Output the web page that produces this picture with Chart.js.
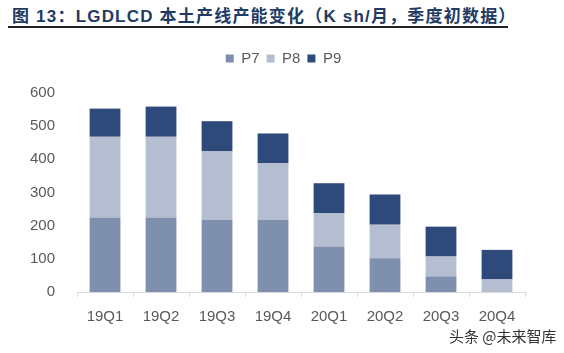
<!DOCTYPE html>
<html>
<head>
<meta charset="utf-8">
<script src="https://cdn.jsdelivr.net/npm/chart.js@4"></script>
<style>
  body { margin: 0; background: #fff; width: 564px; height: 353px; position: relative; overflow: hidden; }
  #title { position: absolute; left: 12px; top: 2px; font: bold 17px "Liberation Sans", "Noto Sans CJK SC", sans-serif; letter-spacing: 1.2px; color: #1f3a63; white-space: nowrap; }
  #rule { position: absolute; left: 8px; top: 26px; width: 500px; height: 2px; background: #222; }
  #wrap { position: absolute; left: 0; top: 40px; width: 564px; height: 300px; }
  #mark { position: absolute; left: 449px; top: 325px; font: 15px "Noto Sans CJK SC", sans-serif; color: #333; }
</style>
</head>
<body>
<div id="title">图 13：LGDLCD 本土产线产能变化（K sh/月，季度初数据）</div>
<div id="rule"></div>
<div id="wrap"><canvas id="chart" width="564" height="300"></canvas></div>
<div id="mark">头条 @未来智库</div>
<script>
var quarters = ['19Q1', '19Q2', '19Q3', '19Q4', '20Q1', '20Q2', '20Q3', '20Q4'];
var p7 = [225, 225, 217, 217, 137, 102, 47, 0];
var p8 = [243, 243, 207, 172, 101, 101, 60, 38];
var p9 = [85, 91, 91, 89, 90, 91, 90, 89];
var yTicks = [0, 100, 200, 300, 400, 500, 600];

var labelColor = '#595959';
var ctx = document.getElementById('chart').getContext('2d');
var chart = new Chart(ctx, {
    type: 'bar',
    data: {
        labels: quarters,
        datasets: [
            { label: 'P7', data: p7, backgroundColor: 'rgb(127,143,174)' },
            { label: 'P8', data: p8, backgroundColor: 'rgb(180,190,208)' },
            { label: 'P9', data: p9, backgroundColor: 'rgb(46,74,122)' }
        ]
    },
    options: {
        responsive: false,
        animation: false,
        layout: { padding: { left: 16, right: 39, top: 0, bottom: 3 } },
        datasets: { bar: { barPercentage: 0.55, categoryPercentage: 1 } },
        plugins: {
            tooltip: { enabled: false },
            legend: {
                labels: {
                    boxWidth: 8, boxHeight: 8, padding: 7,
                    color: labelColor,
                    font: { family: 'Liberation Sans', size: 15 }
                }
            }
        },
        scales: {
            x: {
                stacked: true,
                grid: { drawOnChartArea: false, drawTicks: true, tickLength: 5, color: '#d9d9d9' },
                border: { color: '#d9d9d9' },
                ticks: { color: labelColor, padding: 11, font: { family: 'Liberation Sans', size: 15 } }
            },
            y: {
                stacked: true,
                min: 0, max: 600,
                afterBuildTicks: function (axis) {
                    axis.ticks = yTicks.map(function (v) { return { value: v }; });
                },
                grid: { display: false },
                border: { display: false },
                ticks: { color: labelColor, padding: 14, font: { family: 'Liberation Sans', size: 15 } }
            }
        }
    },
    plugins: [{
        id: 'legendGap',
        beforeInit: function (c) {
            var fit = c.legend.fit;
            c.legend.fit = function () {
                fit.call(this);
                this.height += 21;
            };
        },
        afterLayout: function (c) {
            // legend sits a little right of the plot centre
            c.legend.left += 13;
            c.legend.right += 13;
            c.legend.top += 4;
            c.legend.bottom += 4;
        }
    }]
});
</script>
</body>
</html>
